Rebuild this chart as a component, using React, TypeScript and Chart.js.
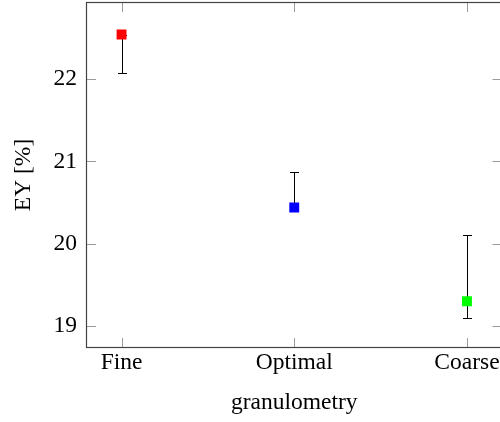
import React, { useEffect, useRef } from "react";
import { Chart, registerables } from "chart.js";

Chart.register(...registerables);

const categories = ["Fine", "Optimal", "Coarse"];
const eyValues = [22.54, 20.44, 19.3];
const errLow = [22.07, 20.44, 19.1];
const errHigh = [22.54, 20.87, 20.11];
const markerColors = ["#ff0000", "#0000ff", "#00ff00"];
const yTicks = [19, 20, 21, 22];
const xTicks = [0, 1, 2];

const FONT = { family: "'Liberation Serif', 'Times New Roman', serif", size: 23.5 };

const frameAndErrors = {
  id: "frameAndErrors",
  beforeDatasetsDraw(chart: any) {
    const { ctx } = chart;
    const xs = chart.scales.x;
    const ys = chart.scales.y;
    ctx.save();
    ctx.strokeStyle = "#000000";
    ctx.lineWidth = 1;
    for (let i = 0; i < eyValues.length; i++) {
      const x = Math.round(xs.getPixelForValue(i)) + 0.5;
      const yl = Math.round(ys.getPixelForValue(errLow[i])) + 0.5;
      const yh = Math.round(ys.getPixelForValue(errHigh[i])) + 0.5;
      ctx.beginPath();
      ctx.moveTo(x, yl);
      ctx.lineTo(x, yh);
      ctx.moveTo(x - 4.5, yl);
      ctx.lineTo(x + 4.5, yl);
      ctx.moveTo(x - 4.5, yh);
      ctx.lineTo(x + 4.5, yh);
      ctx.stroke();
    }
    ctx.restore();
  },
  afterDraw(chart: any) {
    const { ctx, chartArea } = chart;
    const { left, right, top, bottom } = chartArea;
    const xs = chart.scales.x;
    const ys = chart.scales.y;
    const tl = 9;
    ctx.save();
    ctx.lineWidth = 1;
    ctx.strokeStyle = "#9a9a9a";
    ctx.beginPath();
    for (const v of yTicks) {
      const y = Math.round(ys.getPixelForValue(v)) + 0.5;
      ctx.moveTo(left, y);
      ctx.lineTo(left + tl, y);
      ctx.moveTo(right, y);
      ctx.lineTo(right - tl, y);
    }
    for (const v of xTicks) {
      const x = Math.round(xs.getPixelForValue(v)) + 0.5;
      ctx.moveTo(x, bottom);
      ctx.lineTo(x, bottom - tl);
      ctx.moveTo(x, top);
      ctx.lineTo(x, top + tl);
    }
    ctx.stroke();
    ctx.strokeStyle = "#444444";
    ctx.lineWidth = 1.2;
    ctx.strokeRect(Math.round(left) - 0.5, Math.round(top) - 0.5, Math.round(right - left) + 1, Math.round(bottom - top) + 1);
    ctx.restore();
  },
};

export default function App() {
  const ref = useRef<HTMLCanvasElement | null>(null);

  useEffect(() => {
    document.body.style.margin = "0";
    document.documentElement.style.overflow = "hidden";
    const canvas = ref.current;
    if (!canvas) return;
    const chart = new Chart(canvas, {
      type: "scatter",
      data: {
        datasets: [
          {
            data: eyValues.map((v, i) => ({ x: i, y: v })),
            backgroundColor: markerColors,
            borderWidth: 0,
            pointStyle: "rect",
            pointRadius: 7,
            pointHoverRadius: 7,
          },
        ],
      },
      options: {
        responsive: false,
        animation: false,
        devicePixelRatio: 1,
        events: [],
        layout: { autoPadding: false, padding: { top: 3, right: 8.5, left: 0, bottom: 0 } },
        plugins: { legend: { display: false }, tooltip: { enabled: false } },
        scales: {
          x: {
            type: "linear",
            position: "bottom",
            min: -0.2,
            max: 2.2,
            afterBuildTicks: (scale: any) => {
              scale.ticks = xTicks.map((v) => ({ value: v }));
            },
            afterFit: (scale: any) => {
              scale.height = 75;
              scale.paddingLeft = 0;
              scale.paddingRight = 0;
            },
            grid: { display: false, drawTicks: false },
            border: { display: false },
            ticks: {
              color: "#000000",
              font: FONT,
              padding: 2.2,
              maxRotation: 0,
              autoSkip: false,
              callback: (v: any) => categories[Number(v)] ?? "",
            },
            title: {
              display: true,
              text: "granulometry",
              color: "#000000",
              font: FONT,
              padding: { top: 0, bottom: 5 },
            },
          },
          y: {
            type: "linear",
            position: "left",
            min: 18.745,
            max: 22.923,
            afterBuildTicks: (scale: any) => {
              scale.ticks = yTicks.map((v) => ({ value: v }));
            },
            afterFit: (scale: any) => {
              scale.width = 87;
              scale.paddingTop = 0;
              scale.paddingBottom = 0;
            },
            grid: { display: false, drawTicks: false },
            border: { display: false },
            ticks: {
              color: "#000000",
              font: FONT,
              padding: 10,
              callback: (v: any) => String(v),
            },
            title: {
              display: true,
              text: "EY [%]",
              color: "#000000",
              font: FONT,
              padding: { top: 10, bottom: 0 },
            },
          },
        },
      },
      plugins: [frameAndErrors],
    });
    return () => chart.destroy();
  }, []);

  return (
    <div style={{ position: "absolute", left: 0, top: 0, width: 500, height: 422, overflow: "hidden" }}>
      <canvas ref={ref} width={510} height={422} style={{ display: "block", width: 510, height: 422 }} />
    </div>
  );
}
